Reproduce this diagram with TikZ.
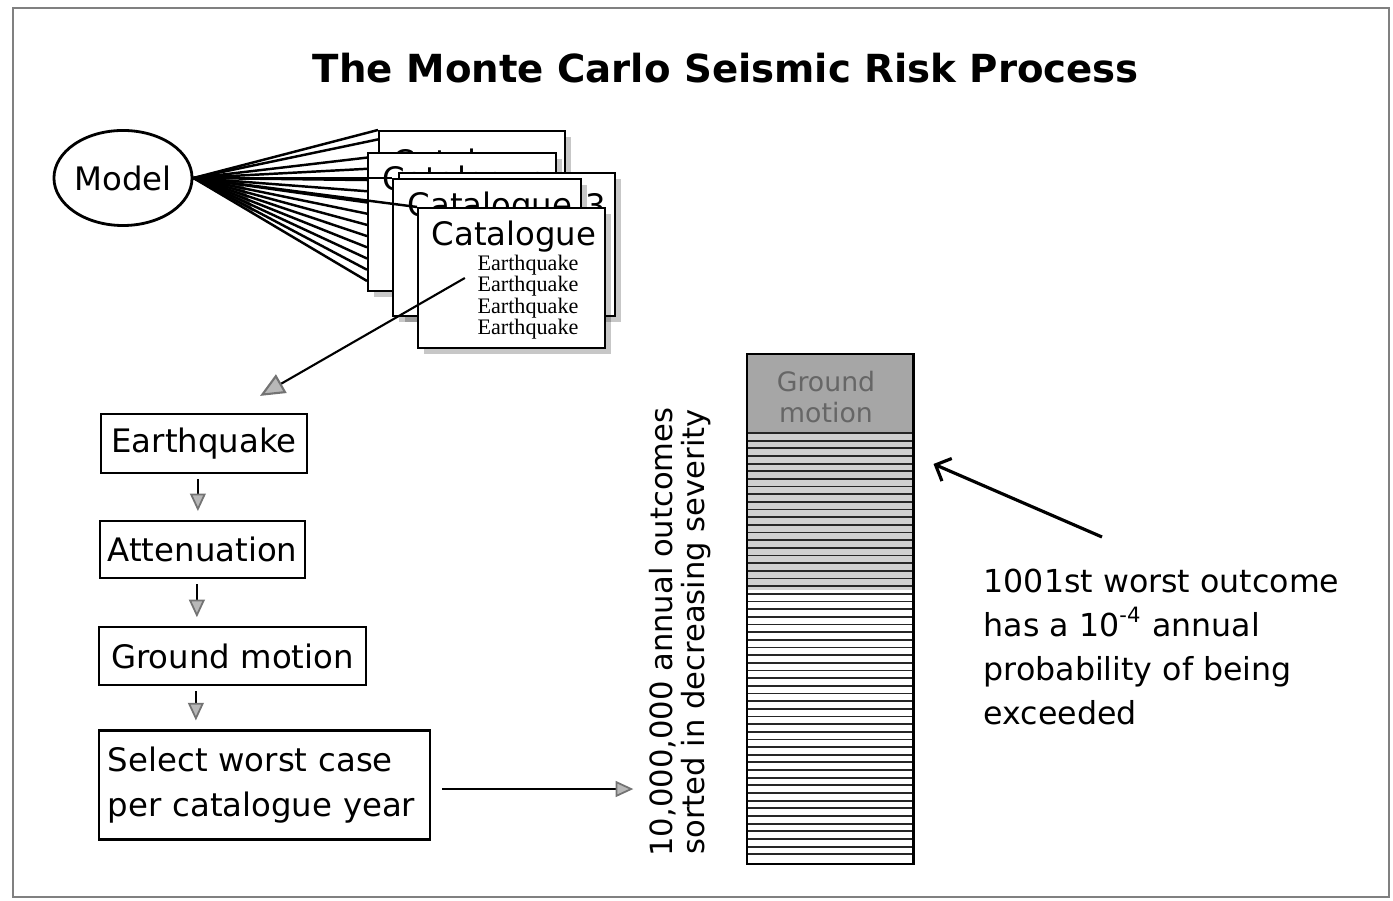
\documentclass[tikz,border=0pt]{standalone}
\usepackage{fontspec}
\setmainfont{DejaVu Sans}
\newfontfamily\listfont{Liberation Serif}
\usepackage{tikz}
\usetikzlibrary{arrows.meta,shapes.geometric,positioning,calc,shadows}

\begin{document}
\begin{tikzpicture}[x=0.01cm,y=-0.01cm,
  stepbox/.style={draw, line width=0.6pt, inner sep=0pt, font=\fontsize{9.2}{12.8}\selectfont},
  card/.style={draw, line width=0.6pt, fill=white, anchor=north west, inner sep=0pt,
    drop shadow={shadow xshift=1.6pt, shadow yshift=-1.6pt, opacity=0.22, fill=black}},
  cardtitle/.style={anchor=west, inner sep=0pt, font=\fontsize{9.2}{11}\selectfont},
  tri/.style={-{Triangle[length=5pt,width=4.5pt,color=black!55,fill=black!28]}, line width=0.5pt},
  pointer/.style={-{Straight Barb[length=3.5pt,width=7pt]}, line width=0.9pt}]
\useasboundingbox (0,0) rectangle (1393,901);
% Frame and title
\draw[black!50, line width=0.6pt] (13,8) rectangle (1389,897);
\node[font=\fontsize{11}{13}\selectfont\bfseries] (title) at (726,68) {The Monte Carlo Seismic Risk Process};
% Model
\node[draw, ellipse, line width=0.8pt, minimum width=1.38cm, minimum height=0.95cm,
  inner sep=0pt, font=\fontsize{9.2}{11}\selectfont] (model) at (123,178) {Model};
% Catalogue cards, back to front
\foreach \n/\x/\y/\w/\h/\dx/\dy/\t in {1/378/130/1.86/1.55/14/35/Catalogue, 2/367/152/1.88/1.38/15/30/Catalogue,
    3b/398/172/2.16/1.43/187/34/3, 3/392/178/1.88/1.37/15/30/Catalogue, 4/417/207/1.87/1.40/14/30/Catalogue} {
  \node[card, minimum width=\w cm, minimum height=\h cm] (cat\n) at (\x,\y) {};
  \node[cardtitle] (cattitle\n) at ($(cat\n.north west)+(\dx,\dy)$) {\t};
}
\node[inner sep=0pt, align=right, font=\listfont\fontsize{6.3}{6.1}\selectfont] (quakes)
  at ($(cat4.north west)+(111,90)$) {Earthquake\\Earthquake\\Earthquake\\Earthquake};
% Fan from model to the cards
\fill[black!70] (model.east) -- ++(48,3) -- ++(12,31) -- cycle;
\foreach \f in {0.04,0.12,...,0.98}
  \draw[line width=0.7pt] (model.east) -- ($(cat2.north west)!\f!(cat2.south west)$);
\draw[line width=0.7pt] (model.east) -- (cat1.north west);
\draw[line width=0.7pt] (model.east) -- ($(cat1.north west)!0.06!(cat1.south west)$);
\draw[line width=0.7pt] (model.east) -- (cat3.north west);
\draw[line width=0.7pt] (model.east) -- (cat4.north west);
% Steps
\node[stepbox, minimum width=2.06cm, minimum height=0.59cm] (eq) at (204,443.5) {Earthquake};
\node[stepbox, minimum width=2.05cm, minimum height=0.57cm, below=0.46cm of eq.south west, anchor=north west,
  xshift=-0.01cm] (att) {Attenuation};
\node[stepbox, minimum width=2.67cm, minimum height=0.58cm, below=0.47cm of att.south west, anchor=north west,
  xshift=-0.01cm] (gm) {Ground motion};
\node[stepbox, minimum width=3.31cm, minimum height=1.09cm, text width=3.13cm, align=left,
  below=0.43cm of gm.south west, anchor=north west] (sel) {Select worst case\\per catalogue year};
\coordinate (pick) at ($(quakes.west)+(-12,-19)$);
\coordinate (drop) at ($(eq.north)+(56,-17)$);
\draw[line width=0.6pt, -{Triangle[length=7pt,width=6pt,color=black!55,fill=black!28]}] (pick) -- (drop);
\foreach \a/\b in {eq/att, att/gm, gm/sel}
  \draw[tri] ($(\a.south west)+(98,5)$) -- ($(\a.south west |- \b.north)+(98,-9)$);
\draw[tri] ([xshift=0.11cm,yshift=-0.04cm]sel.east) -- ++(1.91cm,0);
% Sorted outcomes
\node[rotate=90, align=center, font=\fontsize{8.7}{9.2}\selectfont] (outc) at (680,632)
  {10,000,000 annual outcomes\\sorted in decreasing severity};
\path node[minimum width=1.65cm, minimum height=5.08cm, anchor=north west, inner sep=0pt] (bar) at (747,354) {};
\fill[black!35] (bar.north west) rectangle ($(bar.north east)+(0,79)$);
\fill[black!19] ($(bar.north west)+(0,79)$) rectangle ($(bar.north east)+(0,236)$);
\foreach \i in {0,...,55} {
  \pgfmathsetmacro{\yy}{433+\i*7.66}
  \draw[black!85, line width=0.5pt] (747,\yy) -- (912,\yy);
}
\draw[line width=0.6pt] (bar.north west) rectangle (bar.south east);
\node[align=center, text=black!60, font=\fontsize{7.6}{9}\selectfont] (gmlabel) at (826,397) {Ground\\motion};
% 1001st outcome
\node[anchor=north west, inner sep=0pt, align=left, font=\fontsize{9}{12.5}\selectfont] (note) at (983,568)
  {1001st worst outcome\\has a 10\textsuperscript{-4} annual\\probability of being\\exceeded};
\coordinate (hit) at ($(bar.north east)+(20,110)$);
\draw[pointer] ($(note.north west)+(119,-31)$) -- (hit);
\end{tikzpicture}
\end{document}
